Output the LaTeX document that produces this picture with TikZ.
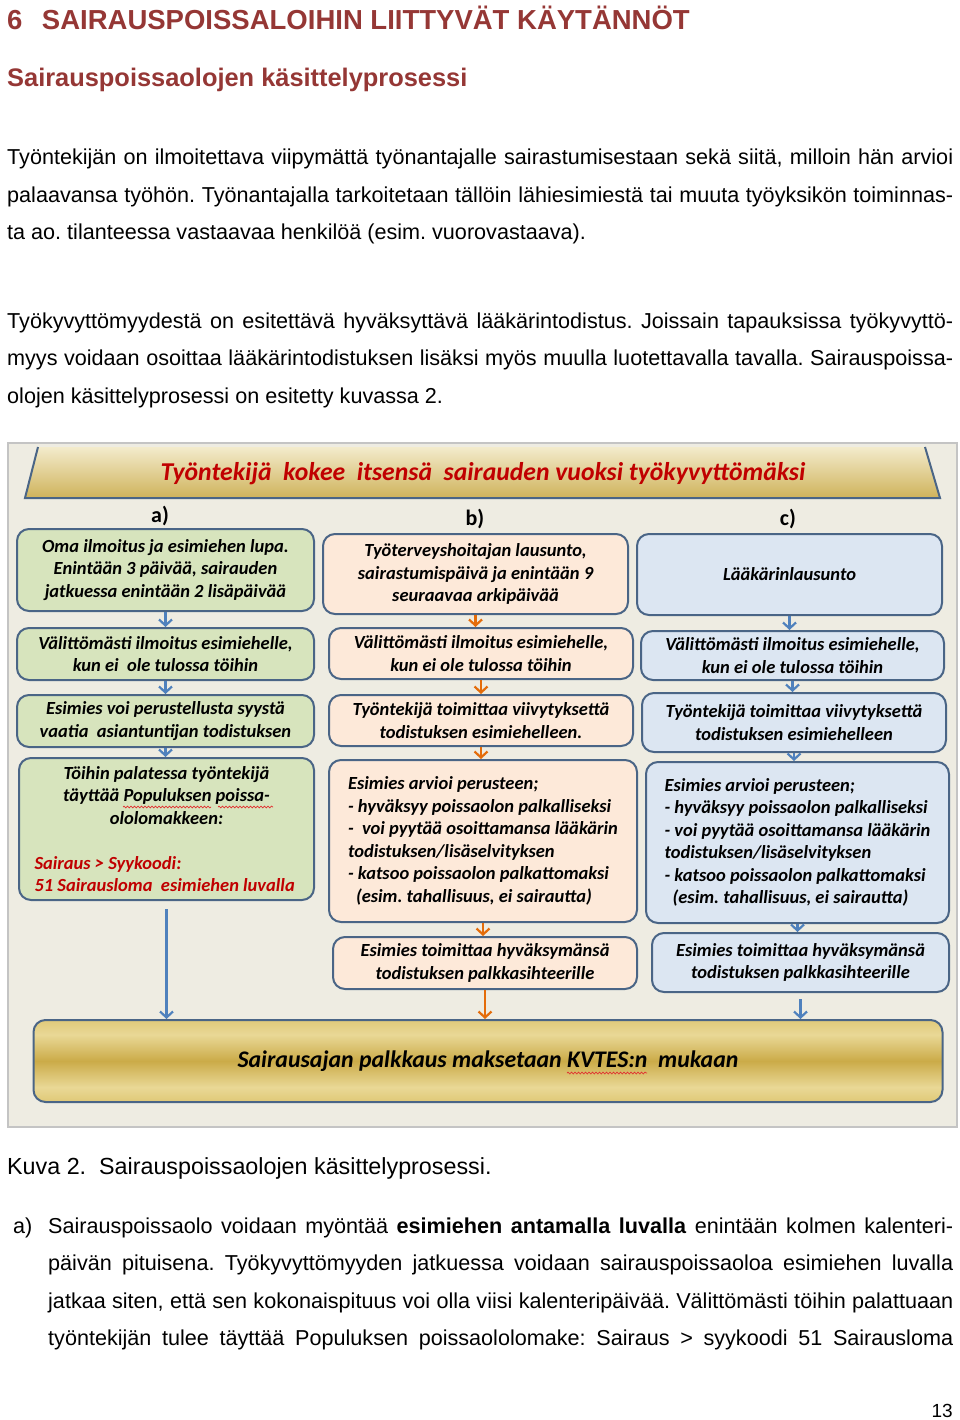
\documentclass[tikz,border=0pt]{standalone}
\usepackage{fontspec}
\setmainfont{Liberation Sans}
\newfontfamily\calfont{Carlito}
\usetikzlibrary{arrows.meta,positioning,calc,decorations.pathmorphing}
\frenchspacing

\definecolor{headred}{HTML}{953735}
\definecolor{titlered}{HTML}{C00000}
\definecolor{spellred}{HTML}{E03030}
\definecolor{framebg}{HTML}{EEECE2}
\definecolor{frameline}{HTML}{C4C4C4}
\definecolor{boxline}{HTML}{4A6586}
\definecolor{greenbox}{HTML}{D7E4BD}
\definecolor{peachbox}{HTML}{FDE9D9}
\definecolor{bluebox}{HTML}{DCE6F2}
\definecolor{arrblue}{HTML}{4F81BD}
\definecolor{arrorange}{HTML}{E46C0A}
\definecolor{bannertop}{HTML}{F3EBCC}
\definecolor{bannerbot}{HTML}{CFB35B}
\definecolor{goldA}{HTML}{C4A03A}
\definecolor{goldB}{HTML}{D8BC5E}
\definecolor{goldC}{HTML}{E9D896}
\definecolor{goldD}{HTML}{CBAB48}

\pgfdeclareverticalshading{goldbar}{100bp}{color(0bp)=(goldA); color(18bp)=(goldB); color(34bp)=(goldC); color(50bp)=(goldD); color(66bp)=(goldC); color(84bp)=(goldB); color(100bp)=(goldA)}

\begin{document}
\begin{tikzpicture}[x=1pt,y=-1pt,
  every node/.style={inner sep=0pt},
  bodyline/.style={anchor=base west,font=\fontsize{21.6}{26}\selectfont},
  flowbox/.style={draw=boxline,line width=2pt,rounded corners=12pt,align=center,
    font=\calfont\bfseries\itshape\fontsize{18.5}{22.5}\selectfont},
  agreen/.style={flowbox,fill=greenbox},
  bpeach/.style={flowbox,fill=peachbox},
  cblue/.style={flowbox,fill=bluebox},
  collabel/.style={font=\calfont\bfseries\fontsize{22}{26}\selectfont},
  spellwave/.style={spellred,line width=0.7pt,decorate,decoration={snake,amplitude=0.9pt,segment length=3.5pt}},
  bluearrow/.style={arrblue,line width=2.2pt,-{Straight Barb[length=6pt,width=13pt]}},
  orangearrow/.style={arrorange,line width=2.2pt,-{Straight Barb[length=6pt,width=13pt]}}]
\fill[white] (0,0) rectangle (960,1420);
\useasboundingbox (0,0) rectangle (960,1420);

% headings
\node[anchor=base west,font=\bfseries\fontsize{27.5}{32}\selectfont,text=headred] (h1) at (7,30)
  {6\hspace{19.5pt}SAIRAUSPOISSALOIHIN LIITTYVÄT KÄYTÄNNÖT};
\node[anchor=base west,font=\bfseries\fontsize{25.4}{30}\selectfont,text=headred] (h2) at (7,87)
  {Sairauspoissaolojen käsittelyprosessi};

% opening paragraphs
\node[bodyline] (pa1) at (7,165) {\makebox[946pt][s]{Työntekijän on ilmoitettava viipymättä työnantajalle sairastumisestaan sekä siitä, milloin hän arvioi}};
\node[bodyline] (pa2) at (7,203) {\makebox[946pt][s]{palaavansa työhön. Työnantajalla tarkoitetaan tällöin lähiesimiestä tai muuta työyksikön toiminnas-}};
\node[bodyline] (pa3) at (7,240) {ta ao. tilanteessa vastaavaa henkilöä (esim. vuorovastaava).};
\node[bodyline] (pb1) at (7,328) {\makebox[946pt][s]{Työkyvyttömyydestä on esitettävä hyväksyttävä lääkärintodistus. Joissain tapauksissa työkyvyttö-}};
\node[bodyline] (pb2) at (7,365) {\makebox[946pt][s]{myys voidaan osoittaa lääkärintodistuksen lisäksi myös muulla luotettavalla tavalla. Sairauspoissa-}};
\node[bodyline] (pb3) at (7,403) {olojen käsittelyprosessi on esitetty kuvassa 2.};

% figure frame and banner
\draw[frameline,line width=1.5pt,fill=framebg] (8,443) rectangle (957,1127);
\shade[top color=bannertop,bottom color=bannerbot] (38,447) -- (925,447) -- (940,498) -- (25,498) -- cycle;
\draw[boxline,line width=2pt] (38,447) -- (25,498) -- (940,498) -- (925,447);
\node[font=\calfont\bfseries\itshape\fontsize{25.7}{30}\selectfont,text=titlered] (title) at (483,474)
  {Työntekijä\ \ kokee\ \ itsensä\ \ sairauden vuoksi työkyvyttömäksi};

\node[collabel] (la) at (160,516) {a)};
\node[collabel] (lb) at (475,519) {b)};
\node[collabel] (lc) at (788,519) {c)};

% column a
\node[agreen,minimum width=297pt,minimum height=82pt] (a1) at (165.5,570)
  {Oma ilmoitus ja esimiehen lupa.\\Enintään 3 päivää, sairauden\\jatkuessa enintään 2 lisäpäivää};
\node[agreen,minimum width=297pt,minimum height=52pt] (a2) at (165.5,654)
  {Välittömästi ilmoitus esimiehelle,\\kun ei\ \ ole tulossa töihin};
\node[agreen,minimum width=297pt,minimum height=52pt] (a3) at (165.5,721)
  {Esimies voi perustellusta syystä\\vaatia\ \ asiantuntijan todistuksen};
\node[agreen,minimum width=295pt,minimum height=142pt] (a4) at (166.5,829)
  {Töihin palatessa työntekijä\\täyttää Populuksen poissa-\\ololomakkeen:\\[22.5pt]
   \textcolor{titlered}{\makebox[264pt][l]{Sairaus > Syykoodi:}}\\
   \textcolor{titlered}{\makebox[264pt][l]{51 Sairausloma\ \ esimiehen luvalla}}};

% column b
\node[bpeach,minimum width=305pt,minimum height=80pt] (b1) at (475.5,574)
  {Työterveyshoitajan lausunto,\\sairastumispäivä ja enintään 9\\seuraavaa arkipäivää};
\node[bpeach,minimum width=304pt,minimum height=51pt] (b2) at (481,653.5)
  {Välittömästi ilmoitus esimiehelle,\\kun ei ole tulossa töihin};
\node[bpeach,minimum width=304pt,minimum height=51pt] (b3) at (481,720.5)
  {Työntekijä toimittaa viivytyksettä\\todistuksen esimiehelleen.};
\node[bpeach,minimum width=308pt,minimum height=162pt,align=left] (b4) at (483,841)
  {Esimies arvioi perusteen;\\- hyväksyy poissaolon palkalliseksi\\-\ \ voi pyytää osoittamansa lääkärin\\
   todistuksen/lisäselvityksen\\- katsoo poissaolon palkattomaksi\\\hspace*{8pt}(esim. tahallisuus, ei sairautta)};
\node[bpeach,minimum width=304pt,minimum height=52pt] (b5) at (485,963)
  {Esimies toimittaa hyväksymänsä\\todistuksen palkkasihteerille};

% column c
\node[cblue,minimum width=305pt,minimum height=81pt] (c1) at (789.5,574.5) {Lääkärinlausunto};
\node[cblue,minimum width=303pt,minimum height=49pt] (c2) at (792.5,655.5)
  {Välittömästi ilmoitus esimiehelle,\\kun ei ole tulossa töihin};
\node[cblue,minimum width=304pt,minimum height=59pt] (c3) at (794,722.5)
  {Työntekijä toimittaa viivytyksettä\\todistuksen esimiehelleen};
\node[cblue,minimum width=303pt,minimum height=161pt,align=left] (c4) at (797.5,842.5)
  {Esimies arvioi perusteen;\\- hyväksyy poissaolon palkalliseksi\\- voi pyytää osoittamansa lääkärin\\
   todistuksen/lisäselvityksen\\- katsoo poissaolon palkattomaksi\\\hspace*{8pt}(esim. tahallisuus, ei sairautta)};
\node[cblue,minimum width=297pt,minimum height=59pt] (c5) at (800.5,962.5)
  {Esimies toimittaa hyväksymänsä\\todistuksen palkkasihteerille};

% common end
\node[flowbox,shade,shading=goldbar,minimum width=909pt,minimum height=82pt,
  font=\calfont\bfseries\itshape\fontsize{23.8}{28}\selectfont] (pay) at (488,1061)
  {Sairausajan palkkaus maksetaan KVTES:n\ \ mukaan};

% spell-check waves
\draw[spellwave] (123,807) -- (211,807);
\draw[spellwave] (218,807) -- (273,807);
\draw[spellwave] (567,1073) -- (647,1073);

% arrows
\foreach \u/\v in {a1/a2,a2/a3,a3/a4,c1/c2,c2/c3,c3/c4,c4/c5}
  \draw[bluearrow] (\u.south) -- (\u.south |- \v.north);
\foreach \u/\v in {b1/b2,b2/b3,b3/b4,b4/b5}
  \draw[orangearrow] (\u.south) -- (\u.south |- \v.north);
\draw[bluearrow,shorten <=8pt] (a4.south) -- (a4.south |- pay.north);
\draw[orangearrow] (b5.south) -- (b5.south |- pay.north);
\draw[bluearrow,shorten <=6pt] (c5.south) -- (c5.south |- pay.north);

% caption and text below
\node[bodyline,font=\fontsize{23.3}{28}\selectfont] (cap) at (7,1174) {Kuva 2.\ \ Sairauspoissaolojen käsittelyprosessi.};
\node[bodyline] (ia) at (13,1233) {a)};
\foreach \txt [count=\i] in {
  {Sairauspoissaolo voidaan myöntää \textbf{esimiehen antamalla luvalla} enintään kolmen kalenteri-},
  {päivän pituisena. Työkyvyttömyyden jatkuessa voidaan sairauspoissaoloa esimiehen luvalla},
  {jatkaa siten, että sen kokonaispituus voi olla viisi kalenteripäivää. Välittömästi töihin palattuaan},
  {työntekijän tulee täyttää Populuksen poissaololomake: Sairaus > syykoodi 51 Sairausloma}}
  \node[bodyline] (pc\i) at (48,{1233+37.6*(\i-1)}) {\makebox[905pt][s]{\txt}};
\node[anchor=base east,font=\fontsize{19}{22}\selectfont] (pnum) at (953,1417) {13};
\end{tikzpicture}
\end{document}
